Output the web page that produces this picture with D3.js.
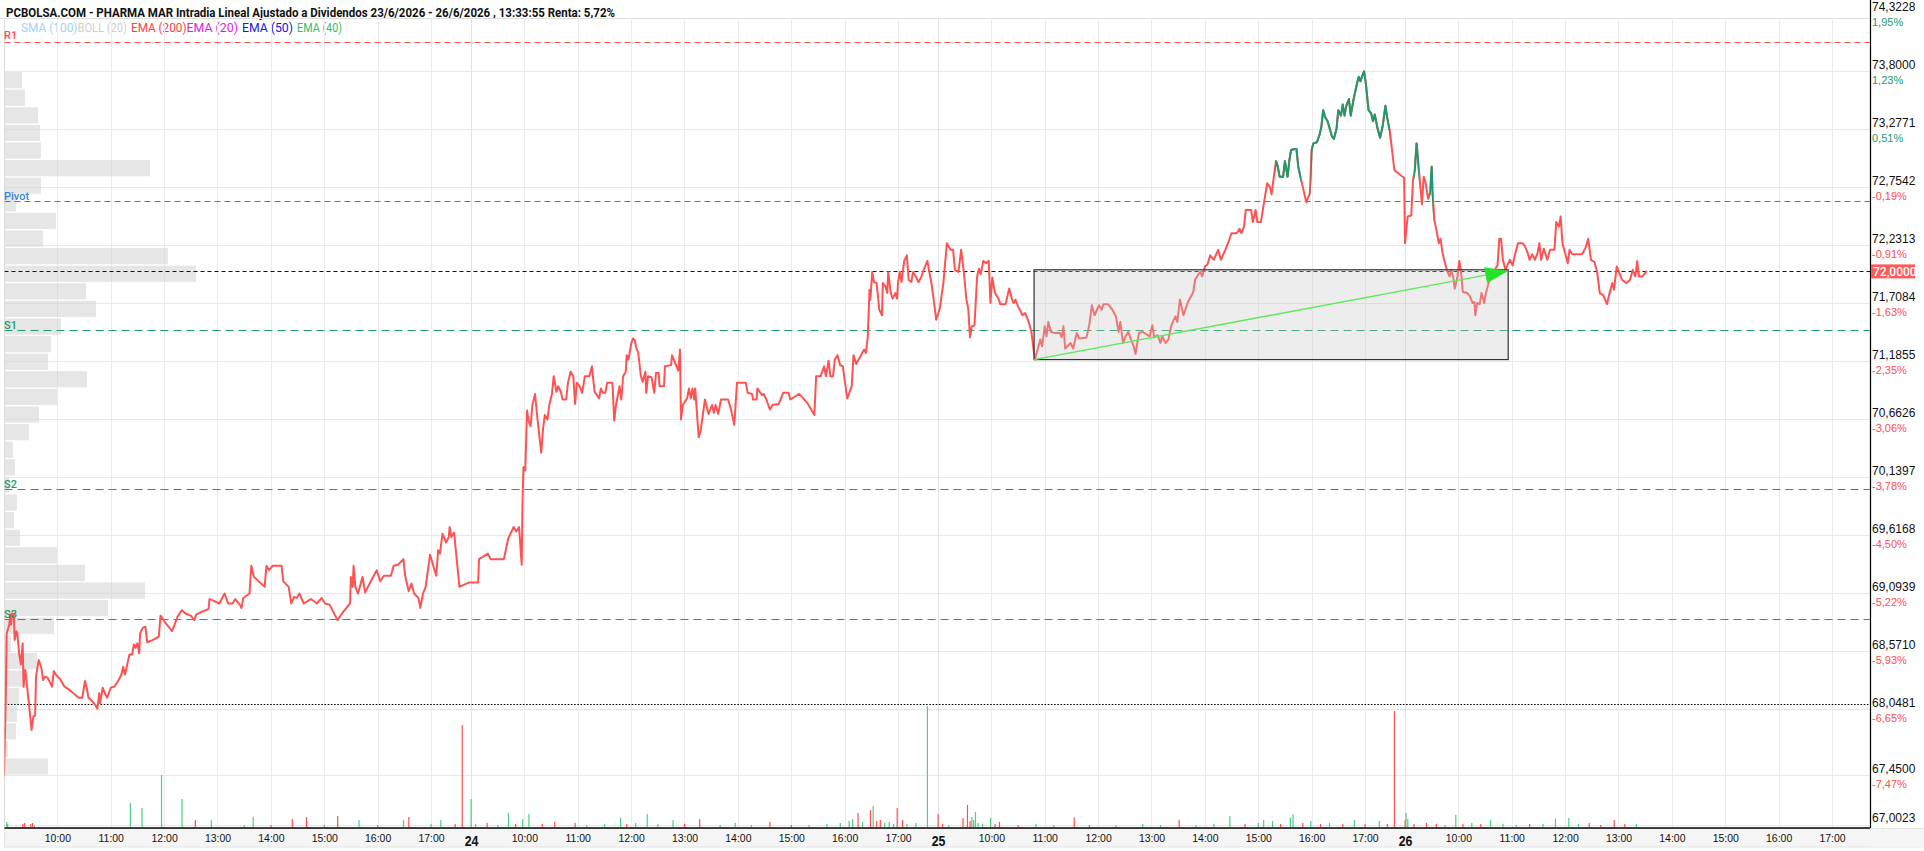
<!DOCTYPE html>
<html>
<head>
<meta charset="utf-8">
<style>
body { margin: 0; background: #fff; }
svg { display: block; font-family: Roboto, "Noto Sans", sans-serif; }
.hgrid, .vgrid { stroke: #e8e8e8; stroke-width: 1px; shape-rendering: crispEdges; }
.profile { fill: #d2d2d2; fill-opacity: 0.55; }
.price { fill: none; stroke-width: 2px; stroke-linejoin: round; }
.xlab { font-size: 11px; fill: #111; text-anchor: middle; }
.daylab { font-size: 14px; font-weight: 700; fill: #111; text-anchor: middle; }
.ylab { font-size: 12px; font-weight: 500; fill: #111; }
.pct { font-size: 11px; }
.lvl { font-size: 11px; font-weight: 500; }
</style>
</head>
<body>
<svg width="1924" height="851"></svg>
<script src="https://cdn.jsdelivr.net/npm/d3@7"></script>
<script>

// ---- data ----
var title = "PCBOLSA.COM - PHARMA MAR Intradia Lineal Ajustado a Dividendos 23/6/2026 - 26/6/2026 , 13:33:55 Renta: 5,72%";
var legendNames = ["SMA (100)", "BOLL (20)", "EMA (200)", "EMA (20)", "EMA (50)", "EMA (40)"];
var dayLabels = ["23", "24", "25", "26"];
var hourLabels = ["10:00", "11:00", "12:00", "13:00", "14:00", "15:00", "16:00", "17:00"];
var SESSION = 8.75; // 9:00 - 17:45

// [minutes after 9:00, price]
var price23 = [[0,67.44],[1,67.80],[2,68.15],[3,68.73],[6,68.81],[7,68.90],[8,68.81],[9,68.91],[11,68.90],[12,68.67],[14,68.75],[15,68.73],[17,68.55],[19,68.45],[21,68.64],[22,68.25],[24,68.40],[26,68.25],[28,68.10],[31,67.86],[33,67.98],[35,67.99],[36,68.34],[39,68.49],[42,68.42],[44,68.31],[46,68.34],[49,68.33],[51,68.30],[54,68.25],[56,68.39],[59,68.35],[63,68.32],[68,68.25],[72,68.23],[78,68.19],[84,68.15],[88,68.15],[91,68.30],[93,68.24],[95,68.15],[99,68.12],[103,68.08],[105,68.05],[107,68.19],[108,68.10],[111,68.24],[114,68.18],[116,68.15],[120,68.24],[124,68.25],[129,68.31],[132,68.36],[134,68.43],[136,68.36],[138,68.43],[141,68.54],[144,68.54],[146,68.63],[148,68.60],[150,68.64],[152,68.55],[153,68.73],[156,68.78],[159,68.79],[161,68.65],[167,68.67],[174,68.70],[176,68.89],[182,68.82],[189,68.75],[195,68.88],[200,68.94],[204,68.91],[210,68.89],[214,68.85],[216,68.90],[221,68.92],[230,68.95],[231,69.04],[234,69.03],[242,69.00],[248,69.09],[252,69.00],[257,69.00],[260,69.04],[265,68.99],[267,68.96],[269,69.05],[276,69.09],[278,69.34],[281,69.24],[293,69.15],[295,69.34],[298,69.30],[302,69.34],[312,69.34],[314,69.20],[320,69.15],[323,69.00],[326,69.06],[329,69.05],[332,69.09],[337,69.00],[345,69.04],[352,69.00],[357,69.05],[361,69.00],[366,68.99],[375,68.85],[380,68.91],[389,69.00],[390,69.24],[392,69.15],[393,69.34],[395,69.15],[398,69.09],[403,69.24],[406,69.10],[413,69.21],[419,69.30],[423,69.20],[427,69.25],[435,69.25],[438,69.34],[443,69.35],[449,69.40],[451,69.25],[455,69.11],[458,69.18],[461,69.09],[466,69.05],[468,68.96],[471,69.09],[474,69.15],[479,69.44],[483,69.33],[486,69.25],[488,69.48],[490,69.45],[493,69.63],[497,69.55],[500,69.60],[501,69.69],[503,69.60],[506,69.64],[512,69.15],[523,69.19]];
var price24 = [[8,69.19],[9,69.40],[19,69.45],[22,69.40],[37,69.40],[42,69.59],[48,69.69],[51,69.65],[54,69.69],[57,69.35],[58,69.95],[59,70.23],[61,70.20],[63,70.74],[65,70.64],[67,70.60],[69,70.79],[72,70.89],[74,70.72],[79,70.36],[81,70.58],[83,70.70],[86,70.66],[88,70.79],[91,70.89],[93,71.05],[96,70.91],[98,70.96],[101,70.91],[103,70.84],[107,70.84],[109,70.99],[112,71.09],[115,71.05],[117,70.80],[119,70.99],[122,70.96],[125,70.90],[128,71.05],[133,71.05],[136,71.14],[137,71.05],[139,70.91],[144,70.85],[146,70.94],[148,70.90],[151,70.90],[153,70.99],[159,70.99],[161,70.65],[163,70.79],[167,70.96],[169,70.84],[171,71.05],[174,71.09],[175,71.24],[177,71.20],[180,71.34],[182,71.39],[184,71.38],[186,71.30],[188,71.26],[191,71.05],[193,71.00],[196,71.09],[197,70.90],[199,71.05],[203,71.04],[206,70.90],[208,71.08],[211,71.08],[212,70.96],[217,70.96],[218,71.14],[225,71.15],[226,71.24],[229,71.18],[233,71.10],[235,71.29],[236,70.66],[238,70.79],[243,70.85],[245,70.94],[247,70.85],[249,70.94],[251,70.84],[252,70.94],[256,70.50],[258,70.55],[263,70.84],[267,70.71],[271,70.79],[273,70.72],[275,70.79],[278,70.71],[281,70.84],[289,70.84],[292,70.76],[296,70.61],[299,70.99],[309,70.99],[311,70.90],[316,70.89],[317,70.84],[321,70.84],[322,70.94],[327,70.88],[329,70.89],[332,70.84],[336,70.75],[339,70.79],[346,70.80],[351,70.90],[357,70.90],[359,70.84],[369,70.89],[378,70.81],[386,70.70],[388,71.05],[393,71.05],[397,71.14],[399,71.05],[402,71.19],[404,71.05],[407,71.05],[409,71.20],[412,71.24],[415,71.15],[418,71.14],[420,71.02],[423,70.85],[428,70.96],[430,71.24],[433,71.16],[442,71.29],[444,71.26],[446,71.40],[448,71.83],[449,71.74],[451,71.99],[453,71.90],[456,71.89],[459,71.65],[462,71.60],[463,71.89],[466,71.86],[468,71.80],[469,71.99],[472,71.80],[474,71.75],[477,71.80],[479,71.75],[480,71.89],[482,71.99],[484,71.90],[487,72.09],[490,72.14],[492,71.92],[495,71.90],[497,71.99],[500,71.95],[503,71.90],[506,71.94],[508,71.99],[513,72.09],[518,71.87],[523,71.56]];
var price25 = [[2,71.66],[6,71.89],[10,72.25],[14,72.19],[17,72.19],[19,72.01],[23,71.99],[26,72.19],[29,71.99],[32,71.74],[34,71.66],[36,71.40],[38,71.50],[41,71.51],[44,71.95],[46,72.02],[48,71.97],[51,72.09],[54,72.07],[57,72.09],[59,71.71],[61,71.94],[64,71.80],[68,71.75],[70,71.70],[76,71.70],[78,71.77],[80,71.84],[83,71.75],[85,71.71],[87,71.74],[90,71.68],[92,71.65],[95,71.60],[98,71.62],[102,71.54],[105,71.45],[107,71.32],[109,71.20],[112,71.29],[115,71.38],[117,71.32],[120,71.50],[122,71.41],[124,71.54],[127,71.45],[131,71.44],[137,71.44],[139,71.40],[141,71.50],[143,71.30],[149,71.35],[152,71.30],[156,71.44],[159,71.39],[167,71.40],[170,71.51],[173,71.69],[176,71.60],[181,71.69],[184,71.65],[186,71.70],[191,71.70],[196,71.65],[200,71.59],[203,71.45],[205,71.54],[208,71.35],[211,71.41],[214,71.45],[217,71.38],[220,71.32],[222,71.25],[226,71.44],[230,71.45],[238,71.41],[241,71.51],[243,71.40],[247,71.42],[250,71.35],[252,71.41],[256,71.35],[259,71.38],[262,71.50],[264,71.54],[267,71.59],[269,71.54],[272,71.74],[276,71.60],[281,71.72],[287,71.81],[289,71.92],[292,71.96],[295,71.99],[297,71.95],[300,72.04],[303,72.06],[306,72.14],[310,72.10],[315,72.19],[318,72.10],[323,72.19],[327,72.27],[330,72.34],[336,72.34],[339,72.38],[341,72.34],[344,72.40],[346,72.55],[352,72.55],[354,72.44],[357,72.55],[359,72.44],[363,72.44],[367,72.64],[370,72.79],[373,72.76],[375,72.69],[378,72.88],[380,72.99],[382,72.94],[384,72.85],[388,72.85],[390,72.99],[393,72.85],[395,73.00],[397,73.09],[401,73.10],[403,73.10],[405,72.94],[410,72.76],[414,72.62],[418,72.70],[420,73.09],[422,73.15],[426,73.16],[429,73.23],[431,73.30],[433,73.45],[435,73.39],[438,73.35],[443,73.21],[445,73.19],[448,73.28],[450,73.45],[453,73.40],[455,73.50],[457,73.40],[459,73.49],[462,73.55],[464,73.40],[467,73.54],[471,73.69],[473,73.75],[475,73.71],[477,73.76],[479,73.80],[481,73.69],[484,73.45],[487,73.42],[489,73.35],[491,73.41],[494,73.29],[497,73.20],[500,73.31],[503,73.49],[505,73.38],[508,73.26],[513,72.91],[519,72.87],[524,72.84]];
var price26 = [[0,72.25],[3,72.49],[7,72.50],[9,72.82],[11,72.91],[13,73.15],[15,72.97],[17,72.79],[19,72.60],[21,72.85],[23,72.80],[26,72.65],[28,72.70],[30,72.94],[31,72.71],[33,72.46],[36,72.34],[38,72.25],[40,72.29],[42,72.17],[44,72.10],[47,72.01],[50,71.95],[52,72.01],[54,71.95],[56,71.84],[59,71.95],[61,72.09],[63,71.99],[65,71.81],[70,71.80],[73,71.77],[76,71.71],[78,71.72],[79,71.60],[81,71.71],[84,71.70],[86,71.80],[89,71.71],[91,71.80],[94,71.89],[97,71.95],[101,72.01],[104,72.05],[106,72.29],[108,72.29],[110,72.10],[113,72.01],[115,72.05],[118,72.10],[121,72.05],[124,72.16],[127,72.25],[132,72.25],[135,72.22],[138,72.16],[140,72.10],[143,72.15],[146,72.10],[149,72.16],[151,72.25],[153,72.10],[156,72.20],[160,72.10],[163,72.19],[168,72.19],[170,72.44],[173,72.40],[175,72.49],[177,72.25],[180,72.16],[183,72.07],[185,72.19],[188,72.15],[199,72.15],[203,72.21],[206,72.29],[209,72.10],[213,72.08],[216,71.99],[219,71.80],[223,71.78],[227,71.70],[230,71.80],[233,71.89],[235,71.83],[238,72.04],[241,71.98],[244,71.92],[249,71.89],[253,71.92],[256,72.01],[259,71.95],[261,72.09],[263,71.95],[267,71.95],[272,72.00]];

// stretches drawn in green: [day, from minute, to minute]
var greenSpans = [[2,379,408],[2,419,508],[3,10,16],[3,28,32]];

// [minute, volume, 1 = up / 0 = down]
var vol23 = [[3,500,1],[4,300,1],[21,300,0],[23,400,0],[30,300,0],[32,400,0],[34,200,1],[142,2400,1],[155,1900,1],[177,5200,1],[200,2800,1],[215,700,0],[233,700,1],[270,200,1],[280,1000,1],[300,200,0],[324,800,0],[340,1000,0],[360,200,1],[375,1100,0],[399,700,1],[420,200,0],[449,700,1],[455,1000,0],[480,300,1],[491,700,1],[507,300,0],[515,10200,0]];
var vol24 = [[0,2800,1],[5,300,1],[18,400,0],[30,200,1],[42,1400,1],[50,300,0],[58,800,1],[65,1300,1],[80,300,0],[94,500,0],[117,400,0],[130,200,1],[150,300,1],[168,950,1],[175,300,0],[185,400,1],[198,1300,1],[210,300,1],[227,700,1],[240,300,0],[257,800,0],[280,200,1],[297,400,1],[315,200,1],[336,500,0],[360,200,0],[380,200,1],[400,300,1],[415,400,1],[425,600,1],[429,800,1],[435,1400,0],[440,500,1],[449,1700,0],[452,2100,1],[456,600,0],[460,700,0],[465,400,1],[470,500,1],[475,300,1],[479,1900,0],[485,700,0],[490,300,1],[500,400,1],[513,12100,1]];
var vol25 = [[0,1300,0],[5,300,0],[12,200,1],[28,900,0],[33,2200,0],[36,600,0],[38,1000,1],[40,700,1],[42,1500,1],[45,400,1],[50,300,1],[59,900,1],[64,300,0],[69,500,0],[90,200,0],[110,300,1],[130,200,1],[153,950,0],[170,200,0],[200,200,1],[230,300,1],[250,200,1],[271,700,0],[290,200,1],[310,300,1],[328,1100,1],[345,300,0],[360,400,1],[366,700,1],[376,600,1],[385,300,0],[396,950,1],[399,1300,1],[410,400,0],[419,600,1],[430,300,0],[440,400,1],[455,300,0],[468,700,1],[480,300,0],[496,600,1],[505,300,0],[513,11600,0]];
var vol26 = [[0,700,0],[1,1400,1],[3,800,1],[10,300,0],[24,400,0],[35,300,0],[45,200,1],[57,1200,1],[65,300,0],[75,400,1],[85,300,0],[96,700,1],[110,300,1],[125,200,1],[140,300,0],[155,300,1],[169,850,1],[184,900,1],[195,300,1],[207,400,0],[220,200,0],[235,700,0],[247,300,0],[260,300,1]];

// volume by price, 40 bins from 73.80 down to 67.45
var profileTop = 73.80, profileBottom = 67.45;
var profileVol = [1700,2000,3300,3500,3600,14500,3600,1100,5100,3800,16300,19100,8100,9100,5600,4600,4300,8200,5200,3400,2400,800,1000,400,1200,900,1500,5200,8000,14000,10300,4900,600,3200,1900,1400,1200,1100,300,4300];

var yTickValues = [74.3228,73.8,73.2771,72.7542,72.2313,71.7084,71.1855,70.6626,70.1397,69.6168,69.0939,68.5710,68.0481,67.45,67.0023];
var yTickPct = ["1,95%","1,23%","0,51%","-0,19%","-0,91%","-1,63%","-2,35%","-3,06%","-3,78%","-4,50%","-5,22%","-5,93%","-6,65%","-7,47%","-8,09%"];

var levelNames = ["R1", "Pivot", "S1", "S2", "S3"];
var levelValues = [74.064, 72.630, 71.467, 70.032, 68.860];
var lastPrice = 72.00;
var lowMark = 68.09;

// box + arrow annotation: [day, minute, price]
var boxStart = [2, 108, 71.20];
var boxEnd = [3, 116, 72.01];
var arrowEnd = [3, 116, 72.00];

// ---- layout ----
var svg = d3.select("svg");
var L = 4.5, R = 1870, T = 18, B = 828;

var x = d3.scaleLinear().domain([0, 4 * SESSION]).range([4, 1872]);
var y = d3.scaleLinear().domain([66.975, 74.281]).range([B, T]);
var vy = d3.scaleLinear().domain([0, 12000]).range([827, 707]);
var pw = d3.scaleLinear().domain([0, 20000]).range([0, 200]);
var tOf = function(d, m) { return d * SESSION + m / 60; };
var comma = function(v) { return d3.format(".4f")(v).replace(".", ","); };

var legendColors = ["#9fd3f7", "#cfcfcf", "#ff4040", "#e020e0", "#1515e6", "#39b86a"];
var legendX = [21, 77.5, 131, 186.5, 242, 297];
var levelColors = ["#ff4d4d", "#3580d8", "#1e9a6e", "#1e9a6e", "#1e9a6e"];
var RED = "#ff5252", GREEN = "#1f9a6c";

svg.append("defs").append("clipPath").attr("id", "plotclip")
  .append("rect").attr("x", L).attr("y", T).attr("width", R - L).attr("height", B - T);

// title + legend
svg.append("text").attr("x", 6).attr("y", 16.5)
  .style("font-size", "12px").style("font-weight", 700).style("fill", "#111")
  .attr("textLength", 609).attr("lengthAdjust", "spacingAndGlyphs")
  .text(title);

svg.selectAll(".legend").data(legendNames).enter().append("text")
  .attr("x", function(d, i) { return legendX[i]; })
  .attr("y", 31.5)
  .style("font-size", "12.5px")
  .style("fill", function(d, i) { return legendColors[i]; })
  .text(function(d) { return d; })
  .each(function(d, i) {
    var room = (i < legendX.length - 1 ? legendX[i + 1] : 346) - legendX[i] - (i === 0 || i === 2 ? 0 : 4);
    var w = this.getComputedTextLength();
    if (w > room) d3.select(this).attr("textLength", room).attr("lengthAdjust", "spacingAndGlyphs");
  });

// frame
svg.append("line").attr("x1", 0).attr("x2", R).attr("y1", T + 0.5).attr("y2", T + 0.5)
  .style("stroke", "#dedede");
svg.append("line").attr("x1", L).attr("x2", L).attr("y1", T).attr("y2", 847)
  .style("stroke", "#dcdcdc");

// grid
var g = svg.append("g").attr("clip-path", "url(#plotclip)");
g.selectAll(".hgrid").data(yTickValues).enter().append("line")
  .attr("class", "hgrid")
  .attr("x1", L).attr("x2", R)
  .attr("y1", function(d) { return Math.round(y(d)) + 0.5; })
  .attr("y2", function(d) { return Math.round(y(d)) + 0.5; });

var xTicks = [];
dayLabels.forEach(function(dl, d) {
  if (d > 0) xTicks.push({t: tOf(d, 0), label: dl, day: true});
  hourLabels.forEach(function(h, i) { xTicks.push({t: tOf(d, (i + 1) * 60), label: h, day: false}); });
});
g.selectAll(".vgrid").data(xTicks).enter().append("line")
  .attr("class", "vgrid")
  .attr("x1", function(d) { return Math.round(x(d.t)) + 0.5; })
  .attr("x2", function(d) { return Math.round(x(d.t)) + 0.5; })
  .attr("y1", T).attr("y2", B)
  .style("stroke", function(d) { return d.day ? "#e2e2e2" : "#ececec"; });

// volume profile
var binH = (profileTop - profileBottom) / profileVol.length;
g.selectAll(".profile").data(profileVol).enter().append("rect")
  .attr("class", "profile")
  .attr("x", 5)
  .attr("y", function(d, i) { return y(profileTop - i * binH) + 0.7; })
  .attr("height", function() { return y(profileTop - binH) - y(profileTop) - 1.4; })
  .attr("width", function(d) { return pw(d); });

// pivot levels
g.selectAll(".lvline").data(levelValues).enter().append("line")
  .attr("x1", L).attr("x2", R)
  .attr("y1", function(d) { return Math.round(y(d)) + 0.5; })
  .attr("y2", function(d) { return Math.round(y(d)) + 0.5; })
  .style("stroke", function(d, i) { return levelColors[i]; })
  .style("stroke-width", 1.2)
  .style("stroke-dasharray", function(d, i) { return i < 2 ? "6,4" : "8,5"; });

g.append("line").attr("x1", L).attr("x2", R)
  .attr("y1", Math.round(y(lastPrice)) + 0.5).attr("y2", Math.round(y(lastPrice)) + 0.5)
  .style("stroke", "#0000a8").style("stroke-width", 1.2).style("stroke-dasharray", "4,3");
g.append("line").attr("x1", L).attr("x2", R)
  .attr("y1", Math.round(y(lowMark)) + 0.5).attr("y2", Math.round(y(lowMark)) + 0.5)
  .style("stroke", "#000").style("stroke-width", 1.2).style("stroke-dasharray", "1.6,1.6");

// volume bars
var vols = [vol23, vol24, vol25, vol26];
vols.forEach(function(arr, d) {
  g.selectAll(".vol" + d).data(arr).enter().append("rect")
    .attr("x", function(v) { return x(tOf(d, v[0])) - 0.5; })
    .attr("width", 1.2)
    .attr("y", function(v) { return vy(v[1]); })
    .attr("height", function(v) { return vy(0) - vy(v[1]); })
    .style("fill", function(v) { return v[2] ? "#4fcf88" : "#ff4f4f"; });
});

// price line
var series = [];
[price23, price24, price25, price26].forEach(function(arr, d) {
  arr.forEach(function(p) { series.push({t: tOf(d, p[0]), p: p[1]}); });
});
var line = d3.line().x(function(d) { return x(d.t); }).y(function(d) { return y(d.p); });

g.append("path").datum(series).attr("class", "price").attr("d", line).style("stroke", RED);

var gclip = svg.select("defs").append("clipPath").attr("id", "greenclip");
greenSpans.forEach(function(s) {
  var x0 = x(tOf(s[0], s[1])), x1 = x(tOf(s[0], s[2]));
  gclip.append("rect").attr("x", x0).attr("y", T).attr("width", x1 - x0).attr("height", B - T);
});
svg.append("g").attr("clip-path", "url(#greenclip)")
  .append("path").datum(series).attr("class", "price").attr("d", line).style("stroke", GREEN);

// annotation box and arrow
var bx0 = x(tOf(boxStart[0], boxStart[1])), bx1 = x(tOf(boxEnd[0], boxEnd[1]));
g.append("rect")
  .attr("x", bx0).attr("y", y(boxEnd[2]))
  .attr("width", bx1 - bx0).attr("height", y(boxStart[2]) - y(boxEnd[2]))
  .style("fill", "#c8c8c8").style("fill-opacity", 0.32)
  .style("stroke", "#333").style("stroke-width", 1.2);

var ax0 = bx0, ay0 = y(boxStart[2]);
var ax1 = x(tOf(arrowEnd[0], arrowEnd[1])), ay1 = y(arrowEnd[2]);
var ang = Math.atan2(ay1 - ay0, ax1 - ax0);
var hl = 23, hw = 8;
var bxm = ax1 - hl * Math.cos(ang), bym = ay1 - hl * Math.sin(ang);
g.append("line").attr("x1", ax0).attr("y1", ay0).attr("x2", bxm).attr("y2", bym)
  .style("stroke", "#5ee85a").style("stroke-width", 1.4);
g.append("path")
  .attr("d", "M" + ax1 + "," + ay1 +
    "L" + (bxm - hw * Math.sin(ang)) + "," + (bym + hw * Math.cos(ang)) +
    "L" + (bxm + hw * Math.sin(ang)) + "," + (bym - hw * Math.cos(ang)) + "Z")
  .style("fill", "#22e22a");

// level labels
svg.selectAll(".lvl").data(levelNames).enter().append("text")
  .attr("class", "lvl")
  .attr("x", 4)
  .attr("y", function(d, i) { return Math.round(y(levelValues[i])) - (i === 0 ? 3 : 1.5); })
  .style("fill", function(d, i) { return levelColors[i]; })
  .text(function(d) { return d; });

// x axis band
svg.append("rect").attr("x", L).attr("y", 828.5).attr("width", 1924 - L).attr("height", 18.5)
  .style("fill", "#f5f5f5").style("stroke", "#e2e2e2");

// right axis
var ya = svg.append("g").attr("transform", "translate(" + R + ",0)")
  .call(d3.axisRight(y).tickValues(yTickValues).tickSize(0).tickPadding(2).tickFormat(comma));
ya.select(".domain").remove();
ya.selectAll("text").attr("class", "ylab").attr("dy", "-0.25em")
  .style("font-family", null).style("font-size", null);
ya.selectAll(".tick").append("text")
  .attr("class", "pct")
  .attr("x", 2).attr("y", 12)
  .style("fill", function(d, i) { return yTickPct[i].charAt(0) === "-" ? "#ff4d4d" : "#1e9a6e"; })
  .text(function(d, i) { return yTickPct[i]; });

// bottom band overlaps the lowest pct label
svg.append("rect").attr("x", R + 1).attr("y", 829).attr("width", 1924 - R).attr("height", 18)
  .style("fill", "#f5f5f5");

svg.append("line").attr("x1", R + 0.5).attr("x2", R + 0.5).attr("y1", 0).attr("y2", B)
  .style("stroke", "#000").style("stroke-width", 1.2);

// bottom axis
var xa = svg.append("g").attr("transform", "translate(0," + B + ")")
  .call(d3.axisBottom(x).tickValues(xTicks.map(function(d) { return d.t; }))
    .tickSize(0).tickPadding(0)
    .tickFormat(function(t, i) { return xTicks[i].label; }));
xa.select(".domain").attr("d", "M" + L + ",0H" + R).style("stroke", "#000").style("stroke-width", 1.4);
xa.selectAll("text")
  .attr("class", function(t, i) { return xTicks[i].day ? "daylab" : "xlab"; })
  .attr("y", function(t, i) { return xTicks[i].day ? 17.5 : 14; })
  .attr("dy", null)
  .style("font-family", null).style("font-size", null)
  .each(function(t, i) {
    var w = this.getComputedTextLength();
    d3.select(this).attr("textLength", w * (xTicks[i].day ? 0.88 : 0.95)).attr("lengthAdjust", "spacingAndGlyphs");
  });

// current price tag
svg.append("rect").attr("x", R + 1).attr("y", y(lastPrice) - 6.5).attr("width", 44).attr("height", 14)
  .style("fill", "#ff5a5a");
svg.append("text").attr("x", R + 3).attr("y", y(lastPrice) + 5)
  .style("font-size", "12px").style("font-weight", 500).style("fill", "#fff")
  .text(comma(lastPrice));

</script>
</body>
</html>
